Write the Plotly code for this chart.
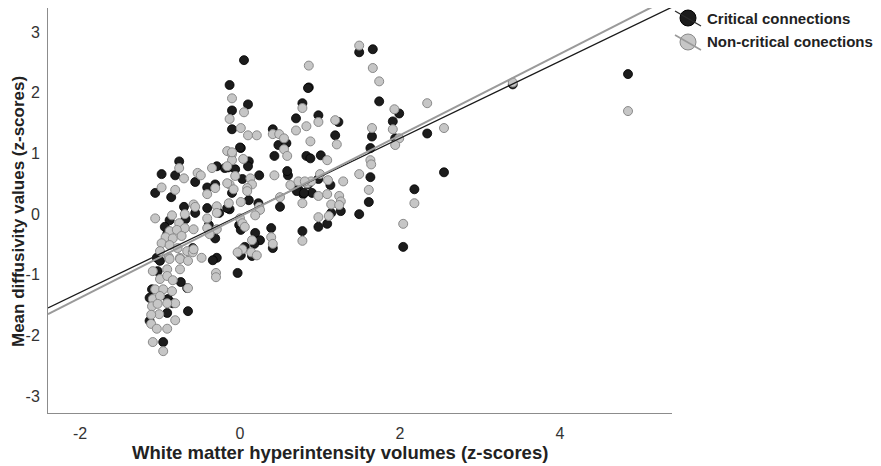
import plotly.graph_objects as go

# White matter hyperintensity volumes (x) and mean diffusivity (y), z-scores
critical_x = [0.05, 1.49, 1.66, 0.86, 1.74, 0.78, 0.98, 1.23, 1.99, 1.91, 1.94, 1.65, 1.19, 1.63,
              0.83, 0.88, 1.01, 1.63, 0.98, 1.13, 0.79, 0.90, 1.61, 1.26, 1.14, 1.49, 1.09, 0.98,
              4.85, 3.41, 2.34, 2.55, 2.18, 2.04, -0.13, 0.10, -0.10, -0.10, 0.85, 0.70, 0.41,
              0.48, 0.58, 0.43, 0.01, 0.11, 0.10, 0.24, -0.15, -0.06, 0.03, 0.60, 0.59, 0.73,
              0.85, -0.10, -0.13, 0.11, 0.23, 0.71, 0.80, 0.50, -0.01, 0.01, 0.39, 0.41, 0.78,
              0.19, 0.25, 0.18, 0.06, 0.01, 0.15, -0.03, -0.76, -0.98, -0.81, -0.56, -0.29,
              -0.19, -0.41, -0.31, -1.06, -0.86, -0.70, -0.56, -0.41, -0.26, -0.16, -0.88,
              -0.68, -0.94, -0.39, -0.31, -0.91, -0.59, -1.04, -0.29, -0.34, -1.00, -1.03,
              -0.74, -0.66, -1.10, -1.13, -0.90, -0.84, -0.91, -0.65, -1.13, -0.96, 0.00]
critical_y = [2.54, 2.67, 2.72, 2.09, 1.86, 1.83, 1.63, 1.52, 1.66, 1.53, 1.25, 1.28, 1.30, 1.09,
              0.96, 0.92, 0.97, 0.61, 0.58, 0.48, 0.33, 0.35, 0.20, 0.05, 0.02, 0.00, -0.16, -0.21,
              2.31, 2.14, 1.33, 0.69, 0.41, -0.54, 2.13, 1.81, 1.71, 1.40, 2.08, 1.58, 1.40,
              1.14, 1.17, 0.96, 1.09, 0.87, 0.79, 0.64, 0.77, 0.74, 0.58, 0.64, 0.71, 0.41,
              0.49, 0.35, 0.08, 0.23, 0.18, 0.38, 0.35, 0.12, -0.18, -0.26, -0.23, -0.56, -0.28,
              -0.31, -0.43, -0.49, -0.54, -0.68, -0.69, -0.97, 0.87, 0.66, 0.64, 0.53, 0.79,
              0.76, 0.44, 0.49, 0.35, 0.28, 0.12, 0.02, 0.10, 0.02, 0.10, -0.10,
              -0.08, -0.21, -0.18, -0.40, -0.33, -0.56, -0.72, -0.72, -0.76, -0.77, -0.94,
              -1.12, -1.22, -1.24, -1.38, -1.40, -1.47, -1.63, -1.60, -1.76, -2.11, 1.10]

noncritical_x = [1.49, 0.86, 1.66, 1.74, 0.78, 0.98, 0.83, 1.19, 1.93, 1.99, 1.94, 1.65, 0.88, 1.21,
                 1.63, 1.64, 1.09, 1.49, 1.29, 1.00, 1.10, 0.84, 0.89, 0.98, 1.09, 1.24, 1.26, 1.14,
                 1.24, 1.61, 1.11, 0.98, 2.04, 4.85, 3.41, 1.91, 2.34, 2.55, 2.18, -0.10, 0.05,
                 -0.13, 0.01, 0.10, 0.21, 0.70, 0.41, 0.49, 0.55, 0.55, 0.59, -0.16, -0.10, -0.10,
                 0.04, -0.06, -0.13, 0.13, 0.15, 0.09, 0.43, 0.63, 0.73, 0.81, -0.08, 0.09, -0.14,
                 0.01, 0.24, 0.25, 0.19, 0.50, 0.78, 0.00, 0.03, 0.06, 0.39, 0.41, 0.78, 0.15,
                 0.03, -0.03, 0.14, 0.21, -0.76, -0.70, -0.53, -0.49, -0.35, -0.16, -0.31, -0.41,
                 -0.98, -0.81, -0.16, -1.06, -0.69, -0.58, -0.56, -0.29, -0.29, -0.85, -0.76,
                 -0.69, -0.58, -0.88, -0.79, -0.41, -0.41, -0.29, -0.38, -0.93, -0.84, -0.73,
                 -0.98, -0.88, -0.78, -0.66, -0.59, -1.00, -0.89, -0.75, -0.48, -0.30, -0.30,
                 -0.88, -0.75, -0.65, -1.09, -0.91, -0.75, -1.00, -0.91, -0.84, -0.65, -1.06,
                 -0.96, -0.85, -1.09, -1.00, -0.81, -1.10, -1.03, -0.91, -1.01, -1.11, -1.11,
                 -1.04, -0.91, -0.81, -1.09, -0.96, -0.58, -0.10]
noncritical_y = [2.78, 2.45, 2.41, 2.19, 1.75, 1.52, 1.45, 1.55, 1.73, 1.25, 1.14, 1.42, 1.20, 1.15,
                 0.89, 0.82, 0.89, 0.66, 0.54, 0.66, 0.56, 0.51, 0.54, 0.30, 0.33, 0.30, 0.21, 0.16,
                 0.15, 0.40, -0.03, -0.05, -0.16, 1.70, 2.17, 1.40, 1.83, 1.42, 0.18, 1.91, 1.68,
                 1.57, 1.42, 1.30, 1.30, 1.38, 1.32, 1.32, 1.25, 1.07, 0.96, 1.04, 0.99, 0.89,
                 0.91, 0.63, 0.49, 0.59, 0.49, 0.43, 0.64, 0.48, 0.54, 0.54, 0.41, 0.38, 0.18,
                 0.20, 0.12, 0.07, -0.02, 0.28, 0.18, -0.07, -0.15, -0.21, -0.38, -0.49, -0.44, -0.43,
                 -0.58, -0.63, -0.63, -0.68, 0.76, 0.59, 0.68, 0.64, 0.76, 0.79, 0.43, 0.33,
                 0.44, 0.40, 0.51, -0.07, 0.00, 0.16, 0.12, 0.13, 0.02, -0.02, -0.15,
                 -0.23, -0.25, -0.28, -0.26, -0.07, -0.23, -0.25, -0.33, -0.38, -0.40, -0.36,
                 -0.48, -0.51, -0.56, -0.61, -0.63, -0.61, -0.71, -0.72, -0.72, -0.97, -1.04,
                 -0.74, -0.74, -0.77, -0.94, -0.91, -0.91, -1.07, -1.02, -1.09, -1.22, -1.24,
                 -1.24, -1.27, -1.40, -1.35, -1.47, -1.52, -1.48, -1.47, -1.65, -1.66, -1.81,
                 -1.89, -1.89, -1.75, -2.11, -2.26, -0.58, 1.02]

# Least-squares fit lines (intercept, slope) for each connection type
critical_fit = (-0.02, 0.636)
noncritical_fit = (-0.04, 0.671)

x_range = [-2.4, 5.4]
y_range = [-3.28, 3.4]
x_ticks = [-2, 0, 2, 4]
x_tick_labels = ["-2", "0", "2", "4"]
y_ticks = [-3, -2, -1, 0, 1, 2, 3]
y_tick_labels = ["-3", "-2", "-1", "0", "1", "2", "3"]

series_names = ["Critical connections", "Non-critical conections"]

BLACK_FILL, BLACK_EDGE = "#1c1c1c", "#000000"
GREY_FILL, GREY_EDGE = "#c6c6c6", "#8a8a8a"
BLACK_LINE, GREY_LINE = "#1a1a1a", "#9a9a9a"
FONT = "Liberation Sans, Arial, sans-serif"

W, H = 881, 466
L, R, T, B = 48, 209, 8, 53
plot_w, plot_h = W - L - R, H - T - B


def px(x):
    return (x - L) / plot_w


def py(y):
    return (H - B - y) / plot_h


fig = go.Figure()

fig.add_trace(go.Scatter(
    x=critical_x, y=critical_y, mode="markers", name=series_names[0], showlegend=False,
    marker=dict(size=9, color=BLACK_FILL, line=dict(color=BLACK_EDGE, width=0.8)),
))
fig.add_trace(go.Scatter(
    x=noncritical_x, y=noncritical_y, mode="markers", name=series_names[1], showlegend=False,
    marker=dict(size=9, color=GREY_FILL, line=dict(color=GREY_EDGE, width=1)),
))

for (b0, b1), col, wid in [(critical_fit, BLACK_LINE, 1.3), (noncritical_fit, GREY_LINE, 2.0)]:
    fig.add_trace(go.Scatter(
        x=x_range, y=[b0 + b1 * x_range[0], b0 + b1 * x_range[1]], mode="lines",
        line=dict(color=col, width=wid), showlegend=False, hoverinfo="skip",
    ))

# Legend: filled circle crossed by a short fit-line segment, then the label
shapes, annotations = [], []
for cy, fill, edge, lcol, lw, label in [
    (18, BLACK_FILL, BLACK_EDGE, "#2a2a2a", 1.3, series_names[0]),
    (42, GREY_FILL, GREY_EDGE, "#9a9a9a", 1.6, series_names[1]),
]:
    shapes.append(dict(type="circle", xref="paper", yref="paper",
                       x0=px(680), x1=px(696), y0=py(cy + 8), y1=py(cy - 8),
                       fillcolor=fill, line=dict(color=edge, width=1)))
    shapes.append(dict(type="line", xref="paper", yref="paper",
                       x0=px(675), y0=py(cy - 7), x1=px(701), y1=py(cy + 8),
                       line=dict(color=lcol, width=lw)))
    annotations.append(dict(x=px(705), y=py(cy), xref="paper", yref="paper",
                            xanchor="left", yanchor="middle", showarrow=False, text=label,
                            font=dict(family=FONT, size=15, color="#222222", weight="bold")))

annotations.append(dict(x=px(340), y=py(452), xref="paper", yref="paper", xanchor="center",
                        yanchor="middle", showarrow=False,
                        text="White matter hyperintensity volumes (z-scores)",
                        font=dict(family=FONT, size=18.5, color="#222222", weight="bold")))
annotations.append(dict(x=px(18), y=py(212), xref="paper", yref="paper", xanchor="center",
                        yanchor="middle", showarrow=False, textangle=-90,
                        text="Mean diffusivity values (z-scores)",
                        font=dict(family=FONT, size=17, color="#222222", weight="bold")))

axis_common = dict(showgrid=False, zeroline=False, showline=True, linecolor="#8c8c8c",
                   linewidth=1, ticks="", mirror=False,
                   tickfont=dict(family=FONT, size=16, color="#333333"))

fig.update_layout(
    width=W, height=H,
    margin=dict(l=L, r=R, t=T, b=B, pad=0),
    paper_bgcolor="white", plot_bgcolor="white",
    xaxis=dict(range=x_range, tickvals=x_ticks, ticktext=x_tick_labels,
               ticklabelstandoff=6, **axis_common),
    yaxis=dict(range=y_range, tickvals=y_ticks, ticktext=y_tick_labels,
               ticklabelstandoff=4, **axis_common),
    shapes=shapes, annotations=annotations,
    showlegend=False,
)

fig.write_html("out.html")
